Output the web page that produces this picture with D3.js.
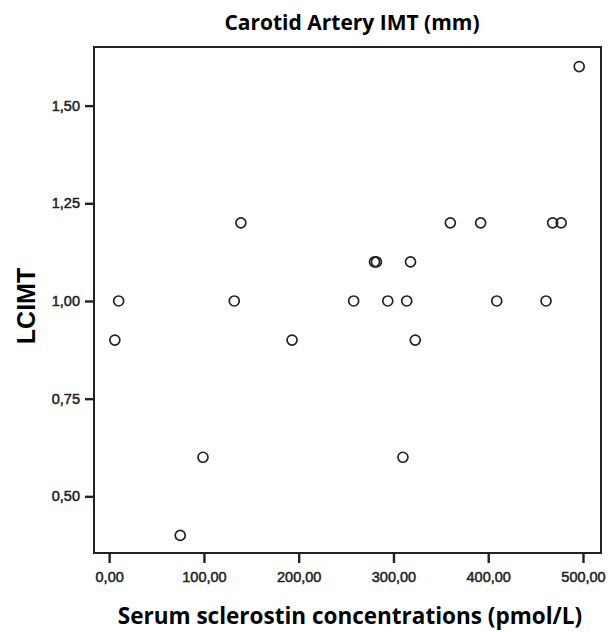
<!DOCTYPE html>
<html>
<head>
<meta charset="utf-8">
<script src="https://cdn.jsdelivr.net/npm/d3@7"></script>
<style>
  body { margin: 0; background: #fff; }
  text { font-family: "Liberation Sans", Arial, sans-serif; }
</style>
</head>
<body>
<svg id="chart" width="613" height="632"></svg>
<script>
// Data
const sclerostin = [6, 10, 75, 99, 132, 139, 193, 258, 280, 282, 294, 310, 314, 318, 323, 360, 392, 409, 461, 468, 477, 496];
const lcimt      = [0.90, 1.00, 0.40, 0.60, 1.00, 1.20, 0.90, 1.00, 1.10, 1.10, 1.00, 0.60, 1.00, 1.10, 0.90, 1.20, 1.20, 1.00, 1.00, 1.20, 1.20, 1.60];
const xTicks = [0, 100, 200, 300, 400, 500];
const yTicks = [0.50, 0.75, 1.00, 1.25, 1.50];

const chartTitle = "Carotid Artery IMT (mm)";
const xTitle = "Serum sclerostin concentrations (pmol/L)";
const yTitle = "LCIMT";

const points = sclerostin.map((x, i) => ({ x, y: lcimt[i] }));

const svg = d3.select("#chart"),
      margin = { top: 47, right: 12, bottom: 79, left: 94 },
      width = +svg.attr("width") - margin.left - margin.right,
      height = +svg.attr("height") - margin.top - margin.bottom;

// decimal comma like the original
const locale = d3.formatLocale({ decimal: ",", thousands: ".", grouping: [3], currency: ["", ""] });
const fmt = locale.format(".2f");

const x = d3.scaleLinear().domain([-16, 519]).range([0, width]);
const y = d3.scaleLinear().domain([0.355, 1.65]).range([height, 0]);

const g = svg.append("g").attr("transform", `translate(${margin.left},${margin.top})`);

// frame
g.append("rect")
  .attr("width", width).attr("height", height)
  .attr("fill", "none").attr("stroke", "#222").attr("stroke-width", 2);

// axes
const xAxis = g.append("g")
  .attr("transform", `translate(0,${height})`)
  .call(d3.axisBottom(x).tickValues(xTicks).tickFormat(fmt).tickSize(10).tickPadding(9));
const yAxis = g.append("g")
  .call(d3.axisLeft(y).tickValues(yTicks).tickFormat(fmt).tickSize(9).tickPadding(5));

[xAxis, yAxis].forEach(ax => {
  ax.select(".domain").remove();
  ax.selectAll(".tick line").attr("stroke", "#222").attr("stroke-width", 2.4);
  ax.selectAll(".tick text")
    .attr("fill", "#222")
    .style("font-size", "14.5px")
    .style("stroke", "#222")
    .style("stroke-width", 0.5);
});

// points
g.selectAll(".dot")
  .data(points)
  .join("circle")
  .attr("class", "dot")
  .attr("cx", d => x(d.x))
  .attr("cy", d => y(d.y))
  .attr("r", 5)
  .attr("fill", "none")
  .attr("stroke", "#222")
  .attr("stroke-width", 1.7);

// titles
svg.append("text")
  .attr("x", 352).attr("y", 30)
  .attr("text-anchor", "middle")
  .style("font-family", "'Open Sans', sans-serif")
  .style("font-size", "21px")
  .style("font-weight", "bold")
  .text(chartTitle);

svg.append("text")
  .attr("x", 350).attr("y", 624)
  .attr("text-anchor", "middle")
  .style("font-family", "'Open Sans', sans-serif")
  .style("font-size", "22.5px")
  .style("font-weight", "bold")
  .text(xTitle);

svg.append("text")
  .attr("transform", "translate(35,306) rotate(-90)")
  .attr("text-anchor", "middle")
  .style("font-size", "25px")
  .style("font-weight", "bold")
  .text(yTitle);
</script>
</body>
</html>
